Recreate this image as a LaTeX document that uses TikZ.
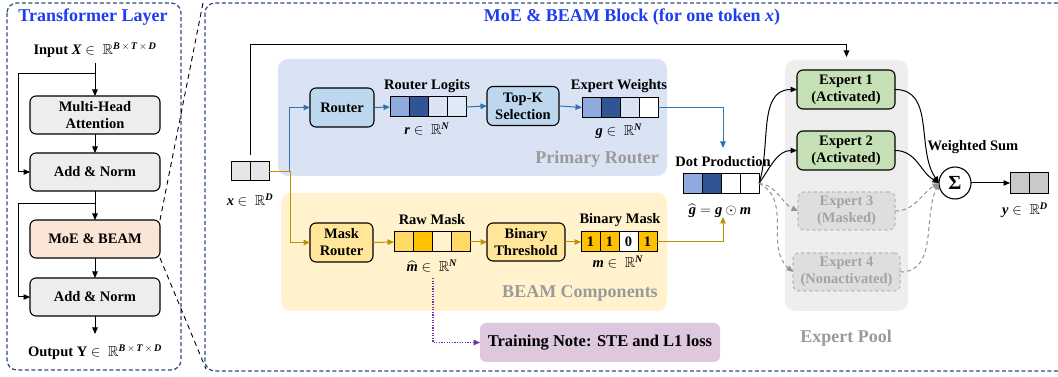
\documentclass[tikz,border=0pt]{standalone}
\usepackage{amsmath,amssymb}
\usepackage{fontspec}
\setmainfont{Liberation Serif}
\usetikzlibrary{arrows.meta,positioning,calc}

\definecolor{navydash}{HTML}{2F4C79}
\definecolor{titleblue}{HTML}{1E3CF0}
\definecolor{boxgray}{HTML}{EDEDED}
\definecolor{moepeach}{HTML}{FBE5D6}
\definecolor{bgblue}{HTML}{DAE3F3}
\definecolor{bgyellow}{HTML}{FFF2CC}
\definecolor{routerblue}{HTML}{BDD7EE}
\definecolor{maskyellow}{HTML}{FFE699}
\definecolor{expgreen}{HTML}{C5E0B4}
\definecolor{poolgray}{HTML}{EEEEEE}
\definecolor{maskedfill}{HTML}{DEDEDE}
\definecolor{maskedline}{HTML}{B8B8B8}
\definecolor{maskedtext}{HTML}{A3A3A3}
\definecolor{grouptext}{HTML}{9A9A9A}
\definecolor{notefill}{HTML}{DDC8DD}
\definecolor{notepurple}{HTML}{7030A0}
\definecolor{lineblue}{HTML}{2E75B6}
\definecolor{linegold}{HTML}{BF9000}
\definecolor{cellA}{HTML}{8FAADC}
\definecolor{cellB}{HTML}{2F5597}
\definecolor{cellC}{HTML}{DAE3F3}
\definecolor{cellD}{HTML}{DEEBF7}
\definecolor{ylA}{HTML}{FFD966}
\definecolor{ylB}{HTML}{FFC000}
\definecolor{ylC}{HTML}{FFF2CC}
\definecolor{ingray}{HTML}{E7E6E6}
\definecolor{outgray}{HTML}{C9C9C9}

\newcommand{\fsnode}{\fontsize{14.5}{17}\selectfont\bfseries}
\newcommand{\fstitle}{\fontsize{18}{21}\selectfont\bfseries}
\newcommand{\fsnote}{\fontsize{16.5}{19}\selectfont\bfseries}
\newcommand{\bi}[1]{\textbf{\textit{#1}}}

\tikzset{
  every node/.style={inner sep=0pt, outer sep=0pt},
  lbl/.style={font=\fsnode},
  grouplbl/.style={font=\fstitle, text=grouptext},
  paneltitle/.style={font=\fstitle, text=titleblue},
  box/.style={draw=black, line width=1.1pt, rounded corners=6pt, align=center, font=\fsnode},
  graybox/.style={box, fill=boxgray, minimum width=130pt, minimum height=38pt},
  maskedbox/.style={box, draw=maskedline, dashed, fill=maskedfill, text=maskedtext},
  cell/.style={draw=black, line width=1pt, minimum width=19pt, minimum height=20pt, font=\fsnode},
  bgpanel/.style={rounded corners=10pt},
  arr/.style={-{Triangle[length=6.5pt,width=5.5pt]}, line width=1pt},
  barr/.style={arr, draw=lineblue},
  yarr/.style={arr, draw=linegold},
  garr/.style={arr, draw=gray!85, dash pattern=on 4pt off 3pt},
  parr/.style={arr, draw=notepurple, line width=1.2pt, dash pattern=on 1.3pt off 1.3pt},
  frame/.style={draw=navydash, line width=1.2pt, dash pattern=on 4pt off 2.5pt, rounded corners=10pt},
  zoomline/.style={draw=black, line width=0.9pt, dash pattern=on 5pt off 4pt},
}

\begin{document}
\begin{tikzpicture}[x=1pt, y=1pt]
\useasboundingbox (0,0) rectangle (1058,377);
\fill[white] (0,0) rectangle (1058,377);
\clip (0,0) rectangle (1058,377);

% ---------------- Transformer layer panel ----------------
\draw[frame] (7,374) rectangle (181,7);
\node[paneltitle] (tltitle) at (93,360) {Transformer Layer};
\node[lbl] (xinlbl) at (95,327) {Input \bi{X} $\in\ \mathbb{R}^{\bi{B}\,\times\,\bi{T}\,\times\,\bi{D}}$};

\node[graybox] (mha) at (95,262) {Multi-Head\\Attention};
\node[graybox] (an1) at (95,205) {Add \& Norm};
\node[graybox, fill=moepeach] (moe) at (95,138) {MoE \& BEAM};
\node[graybox] (an2) at (95,80) {Add \& Norm};
\node[lbl] (youtlbl) at (95,25) {Output Y $\in\ \mathbb{R}^{\bi{B}\,\times\,\bi{T}\,\times\,\bi{D}}$};

\coordinate (xin) at (95,314);
\coordinate (res1) at (95,303);
\coordinate (res2) at (95,173);
\coordinate (yout) at (95,43);

\draw[arr] (xin) -- (mha.north);
\draw[arr] (res1) -- ++(-77,0) |- (an1.west);
\draw[arr] (mha) -- (an1);
\draw[arr] (an1) -- (moe);
\draw[arr] (res2) -- ++(-77,0) |- (an2.west);
\draw[arr] (moe) -- (an2);
\draw[arr] (an2) -- (yout);

% ---------------- MoE & BEAM block panel ----------------
\draw[frame] (205,374) rectangle (1068,6);
\coordinate (mtl) at (203,374);
\coordinate (mbl) at (206,8);
\draw[zoomline] (moe.north east) -- (mtl);
\draw[zoomline] (moe.south east) -- (mbl);

\node[paneltitle] (mtitle) at (632,360) {MoE \& BEAM Block (for one token \textit{x})};

% background groups
\node[bgpanel, fill=bgblue, minimum width=389pt, minimum height=117pt] (prbg) at (472.5,259.5) {};
\node[bgpanel, fill=bgyellow, minimum width=386pt, minimum height=118pt] (bmbg) at (474,125) {};
\node[bgpanel, fill=poolgray, minimum width=123pt, minimum height=251pt] (pool) at (846.5,191.5) {};
\node[grouplbl] (prlbl) at (597,218) {Primary Router};
\node[grouplbl] (bmlbl) at (580,84) {BEAM Components};
\node[grouplbl] (poollbl) at (846,39) {Expert Pool};

% token input
\node[cell, fill=ingray, minimum height=19pt] (in1) at (240.5,205.5) {};
\node[cell, fill=ingray, minimum height=19pt, right=0pt of in1] (in2) {};
\node[lbl] (inlbl) at (250,177) {\bi{x} $\in\ \mathbb{R}^{\bi{D}}$};

% primary router
\node[box, fill=routerblue, minimum width=64pt, minimum height=39pt] (router) at (342,269.5) {Router};
\node[lbl] (rllbl) at (427,291) {Router Logits};
\node[cell, fill=cellA] (rl1) at (399.5,270) {};
\node[cell, fill=cellB, right=0pt of rl1] (rl2) {};
\node[cell, fill=cellC, right=0pt of rl2] (rl3) {};
\node[cell, fill=cellD, right=0pt of rl3] (rl4) {};
\node[lbl] (rlmath) at (427,248) {\bi{r} $\in\ \mathbb{R}^{\bi{N}}$};

\node[box, fill=routerblue, minimum width=72pt, minimum height=39pt] (topk) at (523,271) {Top-K\\Selection};
\node[lbl] (ewlbl) at (619,291) {Expert Weights};
\node[cell, fill=cellA] (ew1) at (591.5,269.5) {};
\node[cell, fill=cellB, right=0pt of ew1] (ew2) {};
\node[cell, fill=cellC, right=0pt of ew2] (ew3) {};
\node[cell, fill=white, right=0pt of ew3] (ew4) {};
\node[lbl] (ewmath) at (619,246) {\bi{g} $\in\ \mathbb{R}^{\bi{N}}$};

% dot production
\node[lbl] (dplbl) at (723,215) {Dot Production};
\node[cell, fill=cellA] (dp1) at (692.5,193.5) {};
\node[cell, fill=cellB, right=0pt of dp1] (dp2) {};
\node[cell, fill=white, right=0pt of dp2] (dp3) {};
\node[cell, fill=white, right=0pt of dp3] (dp4) {};
\node[lbl, anchor=base] (dpmath) at (720,162) {$\smash[t]{\widehat{\bi{g}}} = \bi{g} \odot \bi{m}$};
\coordinate (dotin) at (723,229);
\coordinate (dotlow) at (723,160);

% BEAM mask path
\node[box, fill=maskyellow, minimum width=63pt, minimum height=39pt] (mrouter) at (341.5,134.5) {Mask\\Router};
\node[lbl] (rmlbl) at (432,157) {Raw Mask};
\node[cell, fill=ylA] (rm1) at (403.5,135) {};
\node[cell, fill=ylB, right=0pt of rm1] (rm2) {};
\node[cell, fill=ylC, right=0pt of rm2] (rm3) {};
\node[cell, fill=ylA, right=0pt of rm3] (rm4) {};
\node[lbl, anchor=base] (rmmath) at (432,105) {$\smash[t]{\widehat{\bi{m}}}$ $\in\ \mathbb{R}^{\bi{N}}$};

\node[box, fill=maskyellow, minimum width=78pt, minimum height=38pt] (bthr) at (526,135) {Binary\\Threshold};
\node[lbl] (bmlbl2) at (620,157) {Binary Mask};
\node[cell, fill=ylB] (bm1) at (590.5,135) {1};
\node[cell, fill=ylB, right=0pt of bm1] (bm2) {1};
\node[cell, fill=white, right=0pt of bm2] (bm3) {0};
\node[cell, fill=ylB, right=0pt of bm3] (bm4) {1};
\node[lbl] (bmmath) at (618,115) {\bi{m} $\in\ \mathbb{R}^{\bi{N}}$};

% training note
\node[rounded corners=6pt, fill=notefill, minimum width=240pt, minimum height=39pt, font=\fsnote] (note) at (600,34.5) {Training Note: STE and L1 loss};
\coordinate (rmnote) at (433,99);

% experts
\node[box, fill=expgreen, minimum width=98pt, minimum height=39pt] (e1) at (846,287.5) {Expert 1\\(Activated)};
\node[box, fill=expgreen, minimum width=98pt, minimum height=39pt] (e2) at (846,226.5) {Expert 2\\(Activated)};
\node[maskedbox, minimum width=97pt, minimum height=38pt] (e3) at (846.5,166) {Expert 3\\(Masked)};
\node[maskedbox, minimum width=107pt, minimum height=38pt] (e4) at (846.5,105) {Expert 4\\(Nonactivated)};

% weighted sum and output
\node[draw=black, line width=1.1pt, circle, fill=white, minimum size=32pt, font=\fontsize{20}{22}\selectfont\bfseries] (sig) at (955,194) {Σ};
\node[lbl] (wslbl) at (973,230) {Weighted Sum};
\node[cell, fill=outgray, minimum height=21pt] (o1) at (1019.5,194) {};
\node[cell, fill=outgray, minimum height=21pt, right=0pt of o1] (o2) {};
\node[lbl] (outlbl) at (1025,167) {\bi{y} $\in\ \mathbb{R}^{\bi{D}}$};

% ---------------- connectors ----------------
\draw[arr] ($(in1.north east)+(0,7)$) |- ($(pool.north)+(0,15)$) -- ($(pool.north)+(0,3)$);
\draw[barr] (in2.east) -- ++(20,0) |- (router.west);
\draw[yarr] (in2.east) -- ++(21,0) |- (mrouter.west);
\draw[barr] (router.east) -- (rl1.west);
\draw[barr] (rl4.east) -- (topk.west);
\draw[barr] (topk.east) -- (ew1.west);
\draw[barr] (ew4.east) -| (dotin);
\draw[yarr] (mrouter.east) -- (rm1.west);
\draw[yarr] (rm4.east) -- (bthr.west);
\draw[yarr] (bthr.east) -- (bm1.west);
\draw[yarr] (bm4.east) -| (dotlow);
\draw[parr] (rmnote) |- (note.west);

\draw[arr] (dp4.east) to[out=72, in=180] (e1.west);
\draw[arr] (dp4.east) to[out=55, in=180] (e2.west);
\draw[garr] (dp4.east) to[out=-5, in=155] (e3.west);
\draw[garr] (dp4.east) to[out=-25, in=140] (e4.west);

\draw[arr] (e1.east) to[out=0, in=125] (sig.west);
\draw[arr] (e2.east) to[out=0, in=150] (sig.west);
\draw[garr] (e3.east) to[out=0, in=-150] (sig.west);
\draw[garr] (e4.east) to[out=0, in=-115] (sig.west);
\draw[arr] (sig.east) -- (o1.west);
\end{tikzpicture}
\end{document}
